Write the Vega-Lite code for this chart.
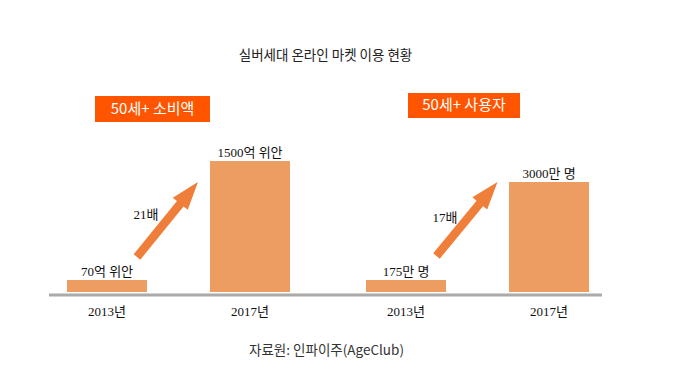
{
  "$schema": "https://vega.github.io/schema/vega-lite/v6.json",
  "width": 680,
  "height": 222,
  "autosize": {"type": "none"},
  "padding": {"top": 70, "bottom": 82, "left": 0, "right": 0},
  "background": "white",
  "config": {"view": {"stroke": null}, "font": "Noto Sans CJK KR"},
  "title": {
    "text": "실버세대 온라인 마켓 이용 현황",
    "font": "Noto Sans CJK KR",
    "fontSize": 13.5,
    "fontWeight": "normal",
    "color": "#222222",
    "offset": 7.5,
    "dx": -14.5,
    "anchor": "middle"
  },
  "datasets": {
    "spend": [
      {"year": "2013년", "value": 70, "label": "70억 위안"},
      {"year": "2017년", "value": 1500, "label": "1500억 위안"}
    ],
    "users": [
      {"year": "2013년", "value": 175, "label": "175만 명"},
      {"year": "2017년", "value": 3000, "label": "3000만 명"}
    ],
    "spendnote": [{"title": "50세+ 소비액", "ratio": "21배"}],
    "usersnote": [{"title": "50세+ 사용자", "ratio": "17배"}]
  },
  "resolve": {"scale": {"x": "independent", "y": "independent"}},
  "layer": [
    {
      "layer": [
        {
          "data": {"name": "spend"},
          "mark": {"type": "bar", "color": "#ED9C62"},
          "encoding": {
            "x": {
              "field": "year",
              "type": "nominal",
              "scale": {"domain": ["2013년", "2017년"], "range": [67, 290], "paddingInner": 0.4406, "paddingOuter": 0},
              "axis": {
                "orient": "bottom",
                "title": "자료원: 인파이주(AgeClub)",
                "domain": false,
                "ticks": false,
                "grid": false,
                "labelAngle": 0,
                "labelPadding": 13,
                "labelFont": "Liberation Serif, Noto Sans CJK KR",
                "labelFontSize": 13,
                "labelColor": "#111111",
                "titleFont": "Noto Sans CJK KR",
                "titleFontSize": 13.5,
                "titleFontWeight": "normal",
                "titleColor": "#333333",
                "titleX": 326,
                "titleY": 58,
                "titleBaseline": "middle",
                "titleAlign": "center"
              }
            },
            "y": {
              "field": "value",
              "type": "quantitative",
              "scale": {"type": "pow", "exponent": 0.78, "domain": [0, 2949], "nice": false},
              "axis": null
            }
          }
        },
        {
          "data": {"name": "spend"},
          "mark": {"type": "text", "dy": -4, "font": "Liberation Serif, Noto Sans CJK KR", "fontSize": 13, "color": "#111111", "baseline": "alphabetic"},
          "encoding": {
            "x": {"field": "year", "type": "nominal"},
            "y": {"field": "value", "type": "quantitative"},
            "text": {"field": "label"}
          }
        },
        {
          "data": {"name": "spendnote"},
          "mark": {"type": "rule", "color": "#aaaaaa", "strokeWidth": 3, "yOffset": 3},
          "encoding": {
            "x": {"datum": "2013년", "type": "nominal", "bandPosition": -0.225},
            "x2": {"datum": "2013년", "bandPosition": 6.6875},
            "y": {"datum": 0, "type": "quantitative"}
          }
        },
        {
          "data": {"name": "spendnote"},
          "mark": {"type": "point", "shape": "M0,-1L0.2,-0.42L0.088,-0.42L0.088,1L-0.088,1L-0.088,-0.42L-0.2,-0.42Z", "size": 9350, "angle": 39.1, "filled": true, "color": "#EF7E3B", "opacity": 1, "strokeWidth": 0},
          "encoding": {
            "x": {"datum": "2013년", "type": "nominal", "bandPosition": 1.256},
            "y": {"datum": 702.5, "type": "quantitative"}
          }
        },
        {
          "data": {"name": "spendnote"},
          "mark": {"type": "text", "font": "Liberation Serif, Noto Sans CJK KR", "fontSize": 13, "color": "#111111", "baseline": "middle"},
          "encoding": {
            "x": {"datum": "2013년", "type": "nominal", "bandPosition": 0.9875},
            "y": {"datum": 758.9, "type": "quantitative"},
            "text": {"field": "ratio"}
          }
        },
        {
          "data": {"name": "spendnote"},
          "mark": {"type": "rect", "color": "#FF5500"},
          "encoding": {
            "x": {"datum": "2013년", "type": "nominal", "bandPosition": 0.35},
            "x2": {"datum": "2013년", "bandPosition": 1.7875},
            "y": {"datum": 2514, "type": "quantitative"},
            "y2": {"datum": 2094.7}
          }
        },
        {
          "data": {"name": "spendnote"},
          "mark": {"type": "text", "font": "Noto Sans CJK KR", "fontSize": 15, "color": "#ffffff", "baseline": "middle"},
          "encoding": {
            "x": {"datum": "2013년", "type": "nominal", "bandPosition": 1.069},
            "y": {"datum": 2302.6, "type": "quantitative"},
            "text": {"field": "title"}
          }
        }
      ]
    },
    {
      "layer": [
        {
          "data": {"name": "users"},
          "mark": {"type": "bar", "color": "#ED9C62"},
          "encoding": {
            "x": {
              "field": "year",
              "type": "nominal",
              "scale": {"domain": ["2013년", "2017년"], "range": [366, 589], "paddingInner": 0.4406, "paddingOuter": 0},
              "axis": {
                "orient": "bottom",
                "title": null,
                "domain": false,
                "ticks": false,
                "grid": false,
                "labelAngle": 0,
                "labelPadding": 13,
                "labelFont": "Liberation Serif, Noto Sans CJK KR",
                "labelFontSize": 13,
                "labelColor": "#111111"
              }
            },
            "y": {
              "field": "value",
              "type": "quantitative",
              "scale": {"type": "pow", "exponent": 0.78, "domain": [0, 7373], "nice": false},
              "axis": null
            }
          }
        },
        {
          "data": {"name": "users"},
          "mark": {"type": "text", "dy": -4, "font": "Liberation Serif, Noto Sans CJK KR", "fontSize": 13, "color": "#111111", "baseline": "alphabetic"},
          "encoding": {
            "x": {"field": "year", "type": "nominal"},
            "y": {"field": "value", "type": "quantitative"},
            "text": {"field": "label"}
          }
        },
        {
          "data": {"name": "usersnote"},
          "mark": {"type": "point", "shape": "M0,-1L0.2,-0.42L0.088,-0.42L0.088,1L-0.088,1L-0.088,-0.42L-0.2,-0.42Z", "size": 9200, "angle": 39.5, "filled": true, "color": "#EF7E3B", "opacity": 1, "strokeWidth": 0},
          "encoding": {
            "x": {"datum": "2013년", "type": "nominal", "bandPosition": 1.2625},
            "y": {"datum": 1771.5, "type": "quantitative"}
          }
        },
        {
          "data": {"name": "usersnote"},
          "mark": {"type": "text", "font": "Liberation Serif, Noto Sans CJK KR", "fontSize": 13, "color": "#111111", "baseline": "middle"},
          "encoding": {
            "x": {"datum": "2013년", "type": "nominal", "bandPosition": 0.9875},
            "y": {"datum": 1802.8, "type": "quantitative"},
            "text": {"field": "ratio"}
          }
        },
        {
          "data": {"name": "usersnote"},
          "mark": {"type": "rect", "color": "#FF5500"},
          "encoding": {
            "x": {"datum": "2013년", "type": "nominal", "bandPosition": 0.525},
            "x2": {"datum": "2013년", "bandPosition": 1.925},
            "y": {"datum": 6408, "type": "quantitative"},
            "y2": {"datum": 5395.5}
          }
        },
        {
          "data": {"name": "usersnote"},
          "mark": {"type": "text", "font": "Noto Sans CJK KR", "fontSize": 15, "color": "#ffffff", "baseline": "middle"},
          "encoding": {
            "x": {"datum": "2013년", "type": "nominal", "bandPosition": 1.225},
            "y": {"datum": 5897, "type": "quantitative"},
            "text": {"field": "title"}
          }
        }
      ]
    }
  ]
}
